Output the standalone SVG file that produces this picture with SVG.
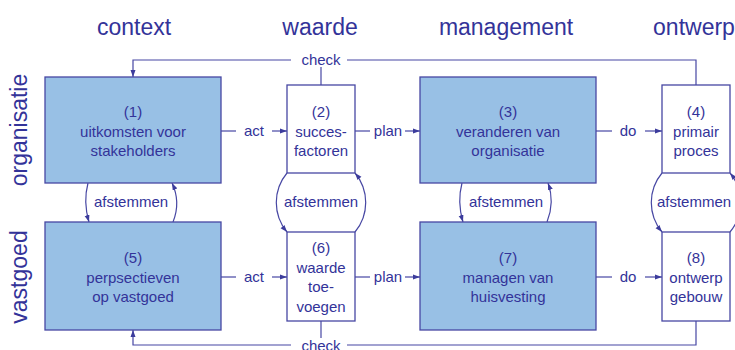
<svg xmlns="http://www.w3.org/2000/svg" width="735" height="350" viewBox="0 0 735 350">
<defs>
<marker id="ah" markerWidth="7" markerHeight="6" refX="7" refY="3" orient="auto" markerUnits="userSpaceOnUse">
<path d="M0,0.5 L7,3 L0,5.5 z" fill="#3c3c9c"/>
</marker>
<style>
.hdr{font-family:"Liberation Sans",Arial,sans-serif;font-size:23px;fill:#333399;text-anchor:middle}
.t{font-family:"Liberation Sans",Arial,sans-serif;font-size:15px;fill:#333399;text-anchor:middle}
.blue{fill:#98c0e5;stroke:#4747a3;stroke-width:1.3}
.white{fill:#ffffff;stroke:#4747a3;stroke-width:1.3}
.ln{fill:none;stroke:#4747a3;stroke-width:1.2}
.arr{fill:none;stroke:#4747a3;stroke-width:1.2;marker-end:url(#ah)}
</style>
</defs>
<rect width="735" height="350" fill="#ffffff"/>

<g id="headers">
<text class="hdr" x="134" y="35">context</text>
<text class="hdr" x="320" y="35">waarde</text>
<text class="hdr" x="506" y="35">management</text>
<text class="hdr" x="694" y="35">ontwerp</text>
<text class="hdr" transform="translate(27,130) rotate(-90)">organisatie</text>
<text class="hdr" transform="translate(27,277) rotate(-90)">vastgoed</text>
</g>

<g id="connectors">
<!-- top check -->
<path class="arr" d="M291,60 H133 V77"/>
<path class="ln" d="M347,60 H696 V85"/>
<path class="ln" d="M321,67 V85"/>
<text class="t" x="321" y="65">check</text>
<!-- bottom check -->
<path class="arr" d="M291,345 H133 V330"/>
<path class="ln" d="M347,345 H696 V321"/>
<path class="ln" d="M321,321 V338"/>
<text class="t" x="321" y="351">check</text>
<!-- act / plan / do top row -->
<path class="ln" d="M221,131 H236"/>
<path class="arr" d="M272,131 H287"/>
<text class="t" x="254" y="136">act</text>
<path class="ln" d="M355,131 H370"/>
<path class="arr" d="M405,131 H420"/>
<text class="t" x="388" y="136">plan</text>
<path class="ln" d="M596,131 H612"/>
<path class="arr" d="M645,131 H662"/>
<text class="t" x="628" y="136">do</text>
<!-- bottom row -->
<path class="ln" d="M221,277 H236"/>
<path class="arr" d="M272,277 H287"/>
<text class="t" x="254" y="282">act</text>
<path class="ln" d="M355,277 H370"/>
<path class="arr" d="M405,277 H420"/>
<text class="t" x="388" y="282">plan</text>
<path class="ln" d="M596,277 H612"/>
<path class="arr" d="M645,277 H662"/>
<text class="t" x="628" y="282">do</text>
<!-- afstemmen 1-5 -->
<path class="arr" d="M88,183 Q83,202 89,222"/>
<path class="arr" d="M173,222 Q181,202 172,183"/>
<text class="t" x="131" y="207">afstemmen</text>
<!-- afstemmen 2-6 -->
<path class="arr" d="M287,173 A46,46 0 0 0 287,232"/>
<path class="arr" d="M355,232 A46,46 0 0 0 355,173"/>
<text class="t" x="321" y="207">afstemmen</text>
<!-- afstemmen 3-7 -->
<path class="arr" d="M462,183 Q457,202 463,222"/>
<path class="arr" d="M547,222 Q555,202 548,183"/>
<text class="t" x="506" y="207">afstemmen</text>
<!-- afstemmen 4-8 -->
<path class="arr" d="M662,173 A46,46 0 0 0 662,232"/>
<path class="arr" d="M730,232 A46,46 0 0 0 730,173"/>
<text class="t" x="694" y="207">afstemmen</text>
</g>

<g id="n1">
<rect class="blue" x="45" y="77" width="176" height="106"/>
<text class="t" x="133" y="117">(1)</text>
<text class="t" x="133" y="137">uitkomsten voor</text>
<text class="t" x="133" y="156">stakeholders</text>
</g>
<g id="n2">
<rect class="white" x="287" y="85" width="68" height="88"/>
<text class="t" x="321" y="117">(2)</text>
<text class="t" x="321" y="137">succes-</text>
<text class="t" x="321" y="156">factoren</text>
</g>
<g id="n3">
<rect class="blue" x="420" y="77" width="176" height="106"/>
<text class="t" x="508" y="117">(3)</text>
<text class="t" x="508" y="137">veranderen van</text>
<text class="t" x="508" y="156">organisatie</text>
</g>
<g id="n4">
<rect class="white" x="662" y="85" width="68" height="88"/>
<text class="t" x="696" y="117">(4)</text>
<text class="t" x="696" y="137">primair</text>
<text class="t" x="696" y="156">proces</text>
</g>
<g id="n5">
<rect class="blue" x="45" y="222" width="176" height="108"/>
<text class="t" x="133" y="263">(5)</text>
<text class="t" x="133" y="283">perpsectieven</text>
<text class="t" x="133" y="302">op vastgoed</text>
</g>
<g id="n6">
<rect class="white" x="287" y="232" width="68" height="89"/>
<text class="t" x="321" y="253">(6)</text>
<text class="t" x="321" y="273">waarde</text>
<text class="t" x="321" y="292">toe-</text>
<text class="t" x="321" y="312">voegen</text>
</g>
<g id="n7">
<rect class="blue" x="420" y="222" width="176" height="108"/>
<text class="t" x="508" y="263">(7)</text>
<text class="t" x="508" y="283">managen van</text>
<text class="t" x="508" y="302">huisvesting</text>
</g>
<g id="n8">
<rect class="white" x="662" y="232" width="68" height="89"/>
<text class="t" x="696" y="263">(8)</text>
<text class="t" x="696" y="283">ontwerp</text>
<text class="t" x="696" y="302">gebouw</text>
</g>
</svg>
